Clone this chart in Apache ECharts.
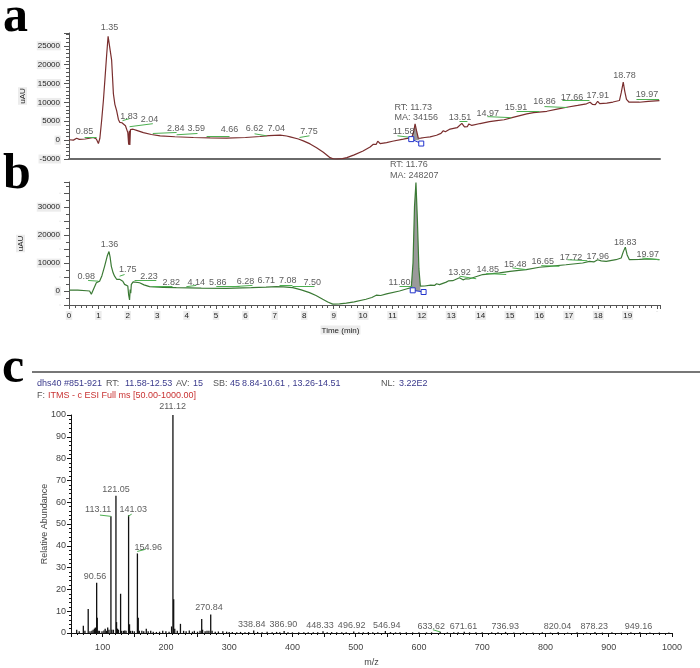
<!DOCTYPE html>
<html><head><meta charset="utf-8">
<script src="https://cdn.jsdelivr.net/npm/echarts@6/dist/echarts.min.js"></script>
<style>html,body{margin:0;padding:0;background:#fff}#c{width:700px;height:668px}</style>
</head><body><div id="c"></div>
<script>
// ---------- Panel a: chromatogram (time min, uAU) ----------
const traceA = [[0,100],[0.15,0],[0.26,500],[0.35,200],[0.55,300],[0.7,500],[0.83,700],[0.93,300],[1.0,-900],[1.05,500],[1.11,5200],[1.17,10500],[1.22,15900],[1.28,22500],[1.33,27500],[1.36,27900],[1.39,27000],[1.45,21200],[1.51,12300],[1.56,9500],[1.62,7800],[1.68,5500],[1.73,4700],[1.8,4600],[1.85,4800],[1.92,3800],[1.97,3400],[2.0,2000],[2.03,-1200],[2.05,2500],[2.07,-1300],[2.09,2800],[2.12,3200],[2.18,2900],[2.3,2600],[2.53,2000],[2.8,1500],[3.1,1150],[3.6,900],[4.23,700],[4.8,600],[5.36,530],[6.0,700],[6.5,960],[6.8,1200],[7.18,1340],[7.4,1100],[7.52,880],[7.8,300],[7.97,-190],[8.2,-1000],[8.42,-2000],[8.65,-3200],[8.88,-4650],[9.0,-5000],[9.1,-5050],[9.3,-4900],[9.45,-4650],[9.7,-3900],[10.0,-2860],[10.24,-1800],[10.35,-1100],[10.4,-640],[10.45,-1100],[10.5,-270],[10.58,-900],[10.8,-640],[11.0,-300],[11.37,270],[11.55,550],[11.66,700],[11.73,2500],[11.77,4300],[11.82,2500],[11.88,500],[11.96,530],[12.1,700],[12.28,880],[12.5,1300],[12.65,1800],[12.73,2490],[12.8,2200],[12.96,2940],[13.2,3300],[13.36,4440],[13.45,3500],[13.55,3600],[13.6,4300],[13.7,3900],[13.98,4400],[14.3,4900],[14.55,5160],[14.8,5400],[15.1,6040],[15.57,6950],[15.8,7300],[16.25,7650],[16.6,8200],[16.93,8720],[17.3,9200],[17.6,9630],[17.72,10050],[17.8,9500],[17.9,9400],[17.98,10300],[18.05,9700],[18.29,9800],[18.5,10100],[18.72,10500],[18.78,12500],[18.85,15400],[18.9,13000],[18.96,10800],[19.05,10050],[19.4,10050],[19.7,10300],[20.08,10500]];
const peakRangeA = [11.64, 11.98];
const blueA = [[11.64,270],[11.98,-900]];
const labelsA = [[0.53,2220,'0.85'],[1.38,29950,'1.35'],[2.04,6230,'1.83'],[2.74,5510,'2.04'],[3.63,3100,'2.84'],[4.33,3100,'3.59'],[5.46,2940,'4.66'],[6.31,3100,'6.62'],[7.05,3100,'7.04'],[8.16,2300,'7.75'],[11.38,2300,'11.58'],[13.30,6040,'13.51'],[14.24,7110,'14.97'],[15.20,8720,'15.91'],[16.17,10240,'16.86'],[17.11,11390,'17.66'],[17.98,11850,'17.91'],[18.89,17190,'18.78'],[19.66,12030,'19.97']];
const rtLabelA = [[11.05,7300,'RT: 11.73\nMA: 34156']];
const greenA = [[[0.53,880],[0.94,880]],[[1.82,5160],[2.06,5700]],[[2.06,3560],[2.85,4360]],[[2.85,1760],[3.66,2030]],[[3.66,1420],[4.37,1760]],[[4.68,1150],[5.46,1150]],[[6.31,1680],[6.72,1150]],[[7.84,700],[8.18,1150]],[[11.17,1150],[11.65,700]],[[13.28,4970],[13.55,4970]],[[14.23,6230],[15.04,5960]],[[15.22,7650],[16.0,7650]],[[16.17,8900],[16.95,8640]],[[16.78,10500],[17.7,10500]],[[19.3,10960],[20.07,10960]]];

// ---------- Panel b ----------
const traceB = [[0,350],[0.3,300],[0.6,100],[0.7,0],[0.76,-1170],[0.8,-200],[0.85,-900],[0.93,2970],[1.04,3530],[1.12,5500],[1.21,8840],[1.3,12500],[1.36,14140],[1.4,12000],[1.44,8840],[1.5,6500],[1.55,5300],[1.62,4200],[1.67,3530],[1.72,4200],[1.78,4730],[1.83,3500],[1.89,2370],[1.95,2000],[2.0,1770],[2.03,-1500],[2.06,-3180],[2.08,500],[2.1,-800],[2.12,2370],[2.18,3300],[2.23,3530],[2.4,2950],[2.55,2200],[2.74,1550],[3.2,1300],[3.65,1200],[4.5,1050],[5.35,950],[6.2,1200],[6.7,1400],[7.05,1550],[7.3,1450],[7.61,1200],[7.9,400],[8.18,-570],[8.4,-1600],[8.63,-2930],[8.8,-3900],[8.97,-4700],[9.2,-4600],[9.43,-4350],[9.7,-3900],[10.1,-2930],[10.3,-2300],[10.45,-1500],[10.5,-1170],[10.6,-1600],[10.8,-1000],[11.24,0],[11.5,800],[11.64,1200],[11.7,10000],[11.75,30000],[11.8,38800],[11.85,25000],[11.9,8000],[11.95,1770],[12.1,1800],[12.3,2100],[12.43,2000],[12.5,2600],[12.6,2300],[12.83,3180],[12.9,3600],[13.05,3700],[13.28,4730],[13.4,4000],[13.5,4400],[13.6,4300],[14.07,5900],[14.64,6500],[15.0,7000],[15.3,7400],[15.55,7670],[15.6,8200],[16.0,8500],[16.34,8840],[16.9,9400],[17.47,10030],[17.7,10600],[17.85,10400],[17.98,11200],[18.1,10800],[18.27,10600],[18.6,11200],[18.78,11800],[18.85,14000],[18.92,15700],[18.98,13000],[19.06,11200],[19.4,11300],[19.74,11450],[20.08,11200]];
const peakRangeB = [11.64, 11.95];
const blueB = [[11.69,250],[12.06,-350]];
const labelsB = [[0.59,5300,'0.98'],[1.38,16500,'1.36'],[2.0,7670,'1.75'],[2.72,5300,'2.23'],[3.48,3180,'2.82'],[4.33,2970,'4.14'],[5.06,3180,'5.86'],[6.0,3530,'6.28'],[6.71,3890,'6.71'],[7.44,3890,'7.08'],[8.27,3180,'7.50'],[11.24,2970,'11.60'],[13.28,6500,'13.92'],[14.24,7670,'14.85'],[15.18,9440,'15.48'],[16.11,10600,'16.65'],[17.07,12160,'17.72'],[17.98,12370,'17.96'],[18.92,17320,'18.83'],[19.68,12970,'19.97']];
const rtLabelB = [[10.9,43190,'RT: 11.76\nMA: 248207']];
const greenB = [[[0.65,3780],[0.99,3530]],[[1.72,5300],[1.89,5900]],[[2.23,3780],[2.97,3780]],[[2.85,1770],[3.52,1770]],[[3.99,1550],[4.33,2010]],[[5.01,1770],[5.8,1770]],[[5.56,1550],[6.24,2010]],[[7.16,2010],[7.6,2010]],[[7.6,1770],[8.35,1770]],[[11.24,1770],[11.68,1770]],[[13.28,5300],[13.85,4380]],[[14.19,6250],[14.87,5900]],[[15.08,8270],[15.55,7670]],[[16.06,9080],[16.68,8840]],[[16.95,11200],[17.63,10850]],[[19.5,11800],[20.08,11200]]];
const timeTicks = [0,1,2,3,4,5,6,7,8,9,10,11,12,13,14,15,16,17,18,19];

// ---------- Panel c: mass spectrum ----------
const msMz = [59,63,69.5,72,77.2,80,83,85,87,88.5,90.56,91.5,93,95,99,102,104,106,108,110,113.11,114.5,117,121.05,122,123.5,125,128.4,130,133,135,137,141.03,142.5,144,147,150,154.96,156.3,158,162,165,169,172,176,180,185,190,195,200,205,209,211.12,212.3,214,218,223,228,232,237,242,245,250,254,256.6,258,262,265,268,270.84,273,278,283,290,296,300,305,312,318,325,331,338.84,345,352,360,368,375,380,386.9,393,400,410,418,425,433,440,448.33,455,462,470,478,485,496.92,505,512,520,527,535,546.94,555,563,570,580,590,600,612,620,633.62,645,655,662,671.61,680,690,700,715,725,736.93,750,765,780,795,808,820.04,835,850,865,878.23,890,905,920,935,949.16,965,980,995];
const msAb = [1.5,0.8,3.3,1,11,0.8,1,1.5,2,2.5,23,7,1,1,0.8,1.2,2,1,2.5,1.5,53.5,1.5,1.5,63,5,2,1.5,18,1,1,1.2,1,54,4,1,1,0.8,36.5,7,1,1,0.8,2,0.8,1,0.6,0.5,0.6,1,0.8,0.6,3,100,15.5,2,1,4.2,1,0.8,1.2,0.6,1,0.6,1,6.4,1.5,0.8,1,1,8.5,1,0.6,0.7,0.8,0.6,0.5,0.5,0.4,0.5,0.4,0.5,1.1,0.5,0.4,0.6,0.4,0.5,0.4,0.9,0.4,0.3,0.4,0.3,0.4,0.3,0.4,0.8,0.3,0.4,0.3,0.4,0.3,0.7,0.3,0.4,0.5,0.4,0.3,0.9,0.4,0.3,0.4,0.3,0.3,0.3,0.3,0.3,0.6,0.3,0.4,0.3,0.6,0.3,0.3,0.3,0.3,0.3,0.5,0.2,0.3,0.2,0.3,0.2,0.5,0.2,0.3,0.2,0.5,0.2,0.3,0.2,0.3,0.5,0.2,0.2,0.2];
const msLabels = [[210.7,103.8,'211.12'],[121.0,65.9,'121.05'],[93.0,56.8,'113.11'],[148.4,56.8,'141.03'],[172.1,39.4,'154.96'],[87.8,25.8,'90.56'],[268.1,11.8,'270.84'],[335.7,3.8,'338.84'],[385.7,3.9,'386.90'],[443.7,3.4,'448.33'],[493.6,3.4,'496.92'],[549.2,3.4,'546.94'],[619.3,3.2,'633.62'],[670.4,3.2,'671.61'],[736.4,3.2,'736.93'],[819.1,3.2,'820.04'],[877.1,3.2,'878.23'],[947.2,3.2,'949.16']];
const msGreen = [[[95.7,54.1],[113.2,53.5]],[[140.5,53.6],[145.9,54.5]],[[154.7,37.4],[168,38.4]],[[622,1.5],[633.5,0.5]]];
const msTickLabels = [100,200,300,400,500,600,700,800,900,1000];

const FONT = '"Liberation Sans", Arial, sans-serif';
const SERIF = 'bold 50px "Liberation Serif", "Times New Roman", serif';
const chart = echarts.init(document.getElementById('c'), null, {renderer:'canvas'});

function labelSeries(data, xi, yi, opts) {
  return Object.assign({
    type:'scatter', xAxisIndex:xi, yAxisIndex:yi, data:data, symbolSize:1, clip:false, z:5,
    itemStyle:{color:'rgba(0,0,0,0)'}, silent:true,
    label:{show:true, position:'inside', formatter:p=>p.value[2], color:'#333', fontSize:9, fontFamily:FONT}
  }, opts || {});
}
function greenSeries(segs, xi, yi) {
  return {type:'lines', coordinateSystem:'cartesian2d', xAxisIndex:xi, yAxisIndex:yi, z:4, silent:true,
    data: segs.map(s=>({coords:s})), lineStyle:{color:'#4caf50', width:1, opacity:1}};
}
function blueSeries(pts, xi, yi) {
  return {type:'line', xAxisIndex:xi, yAxisIndex:yi, data:pts, z:6, silent:true, symbol:'rect', symbolSize:5,
    itemStyle:{color:'#fff', borderColor:'#2233cc', borderWidth:1}, lineStyle:{color:'#2233cc', width:1}};
}
const fillA = traceA.filter(p=>p[0]>=peakRangeA[0] && p[0]<=peakRangeA[1]);
const fillB = traceB.filter(p=>p[0]>=peakRangeB[0] && p[0]<=peakRangeB[1]);

const boxLabel = {fontSize:8, color:'#222', fontFamily:FONT, backgroundColor:'#ececec', padding:[1,1,0,1]};
const plain = v => String(v);

chart.setOption({
  animation:false,
  backgroundColor:'#fff',
  grid:[
    {left:69, top:33, width:591, height:126},
    {left:69, top:182, width:591, height:123},
    {left:71, top:415, width:601, height:220}
  ],
  xAxis:[
    {gridIndex:0, type:'value', min:0, max:20.1, axisLine:{show:true, onZero:false, lineStyle:{color:'#6a6a6a', width:2}}, axisTick:{show:false}, axisLabel:{show:false}, splitLine:{show:false}},
    {gridIndex:1, type:'value', min:0, max:20.1, interval:1, axisLine:{show:true, onZero:false, lineStyle:{color:'#555', width:1}},
      axisTick:{show:true, length:4, lineStyle:{color:'#555'}}, minorTick:{show:true, splitNumber:5, length:3, lineStyle:{color:'#555'}},
      axisLabel:Object.assign({margin:6, showMaxLabel:false, formatter:v=>timeTicks.indexOf(v)>=0?String(v):''}, boxLabel), splitLine:{show:false},
      name:'Time (min)', nameLocation:'middle', nameGap:19, nameMoveOverlap:false,
      nameTextStyle:{rich:{t:Object.assign({}, boxLabel), s:{width:48}}},
      },
    {gridIndex:2, type:'value', min:50, max:1000, interval:50, axisLine:{show:true, onZero:false, lineStyle:{color:'#111', width:1}},
      axisTick:{show:true, length:4, lineStyle:{color:'#111'}}, minorTick:{show:true, splitNumber:5, length:2, lineStyle:{color:'#111'}},
      axisLabel:{interval:0, margin:10, fontSize:9, color:'#444', fontFamily:FONT, formatter:v=>msTickLabels.indexOf(v)>=0?String(v):''}, splitLine:{show:false},
      name:'m/z', nameLocation:'middle', nameGap:25, nameMoveOverlap:false, nameTextStyle:{fontSize:9, color:'#444', fontFamily:FONT}}
  ],
  yAxis:[
    {gridIndex:0, type:'value', min:-5000, max:28400, interval:5000, axisLine:{show:true, lineStyle:{color:'#555'}},
      axisTick:{show:true, length:5, lineStyle:{color:'#555'}}, minorTick:{show:true, splitNumber:5, length:3, lineStyle:{color:'#555'}},
      axisLabel:Object.assign({margin:8, showMaxLabel:false, formatter:plain}, boxLabel), splitLine:{show:false},
      name:'uAU', nameLocation:'middle', nameGap:42, nameRotate:90, nameMoveOverlap:false, nameTextStyle:Object.assign({}, boxLabel)},
    {gridIndex:1, type:'value', min:-5000, max:39000, interval:5000, axisLine:{show:true, lineStyle:{color:'#555'}},
      axisTick:{show:true, length:5, lineStyle:{color:'#555'}}, minorTick:{show:true, splitNumber:2, length:3, lineStyle:{color:'#555'}},
      axisLabel:Object.assign({margin:8, showMaxLabel:false, formatter:v=>(v%10000===0)?String(v):''}, boxLabel), splitLine:{show:false},
      name:'uAU', nameLocation:'middle', nameGap:44, nameRotate:90, nameMoveOverlap:false, nameTextStyle:Object.assign({}, boxLabel)},
    {gridIndex:2, type:'value', min:0, max:100, interval:10, axisLine:{show:true, lineStyle:{color:'#111'}},
      axisTick:{show:true, length:4, lineStyle:{color:'#111'}}, minorTick:{show:true, splitNumber:5, length:2, lineStyle:{color:'#111'}},
      axisLabel:{margin:5, fontSize:9, color:'#444', fontFamily:FONT}, splitLine:{show:false},
      name:'Relative Abundance', nameLocation:'middle', nameGap:22, nameRotate:90, nameMoveOverlap:false, nameTextStyle:{fontSize:9, color:'#444', fontFamily:FONT}}
  ],
  series:[
    {type:'line', xAxisIndex:0, yAxisIndex:0, data:fillA, symbol:'none', lineStyle:{width:0}, areaStyle:{color:'#9a9a9a', opacity:1}, z:2, silent:true},
    {type:'line', xAxisIndex:0, yAxisIndex:0, data:traceA, symbol:'none', lineStyle:{color:'#7a2e2e', width:1.2}, z:3, silent:true},
    greenSeries(greenA, 0, 0),
    blueSeries(blueA, 0, 0),
    labelSeries(labelsA, 0, 0),
    labelSeries(rtLabelA, 0, 0, {label:{show:true, position:'right', distance:0, formatter:p=>p.value[2], color:'#333', fontSize:9, lineHeight:10, fontFamily:FONT}}),

    {type:'line', xAxisIndex:1, yAxisIndex:1, data:fillB, symbol:'none', lineStyle:{width:0}, areaStyle:{color:'#9a9a9a', opacity:1}, z:2, silent:true},
    {type:'line', xAxisIndex:1, yAxisIndex:1, data:traceB, symbol:'none', lineStyle:{color:'#3b7a35', width:1.2}, z:3, silent:true},
    greenSeries(greenB, 1, 1),
    blueSeries(blueB, 1, 1),
    labelSeries(labelsB, 1, 1),
    labelSeries(rtLabelB, 1, 1, {label:{show:true, position:'right', distance:0, formatter:p=>p.value[2], color:'#333', fontSize:9, lineHeight:11, fontFamily:FONT}}),

    {type:'custom', xAxisIndex:2, yAxisIndex:2, data:msMz.map((m,i)=>[m, msAb[i]]), z:3, silent:true, clip:false,
      renderItem:function(params, api){
        const p0 = api.coord([api.value(0), 0]);
        const p1 = api.coord([api.value(0), api.value(1)]);
        return {type:'line', shape:{x1:p0[0], y1:p0[1], x2:p1[0], y2:p1[1]}, style:{stroke:'#111', lineWidth:1.3}};
      }},
    greenSeries(msGreen, 2, 2),
    labelSeries(msLabels, 2, 2)
  ],
  graphic:[
    {type:'text', left:3, top:-7, style:{text:'a', font:SERIF, fill:'#000'}},
    {type:'text', left:3, top:150, style:{text:'b', font:SERIF, fill:'#000'}},
    {type:'text', left:2, top:344, style:{text:'c', font:SERIF, fill:'#000'}},
    {type:'line', shape:{x1:32, y1:372, x2:700, y2:372}, style:{stroke:'#777', lineWidth:2}},
    {type:'text', x:37, y:384, style:{text:'dhs40 #851-921', font:'9px '+FONT, fill:'#3a3a8c', verticalAlign:'middle'}},
    {type:'text', x:106, y:384, style:{text:'RT:', font:'9px '+FONT, fill:'#555', verticalAlign:'middle'}},
    {type:'text', x:125, y:384, style:{text:'11.58-12.53', font:'9px '+FONT, fill:'#3a3a8c', verticalAlign:'middle'}},
    {type:'text', x:176, y:384, style:{text:'AV:', font:'9px '+FONT, fill:'#555', verticalAlign:'middle'}},
    {type:'text', x:193, y:384, style:{text:'15', font:'9px '+FONT, fill:'#3a3a8c', verticalAlign:'middle'}},
    {type:'text', x:213, y:384, style:{text:'SB:', font:'9px '+FONT, fill:'#555', verticalAlign:'middle'}},
    {type:'text', x:230, y:384, style:{text:'45', font:'9px '+FONT, fill:'#3a3a8c', verticalAlign:'middle'}},
    {type:'text', x:242, y:384, style:{text:'8.84-10.61 , 13.26-14.51', font:'9px '+FONT, fill:'#3a3a8c', verticalAlign:'middle'}},
    {type:'text', x:381, y:384, style:{text:'NL:', font:'9px '+FONT, fill:'#555', verticalAlign:'middle'}},
    {type:'text', x:399, y:384, style:{text:'3.22E2', font:'9px '+FONT, fill:'#3a3a8c', verticalAlign:'middle'}},
    {type:'text', x:37, y:396, style:{text:'F:', font:'9px '+FONT, fill:'#555', verticalAlign:'middle'}},
    {type:'text', x:48, y:396, style:{text:'ITMS - c ESI Full ms [50.00-1000.00]', font:'9px '+FONT, fill:'#c83232', verticalAlign:'middle'}}
  ]
});
// Axis title with rich spacer so it sits left of the axis centre, as in the reference
chart.setOption({xAxis:[{}, {name:'{t|Time (min)}{s|}'}, {}]});
</script></body></html>
